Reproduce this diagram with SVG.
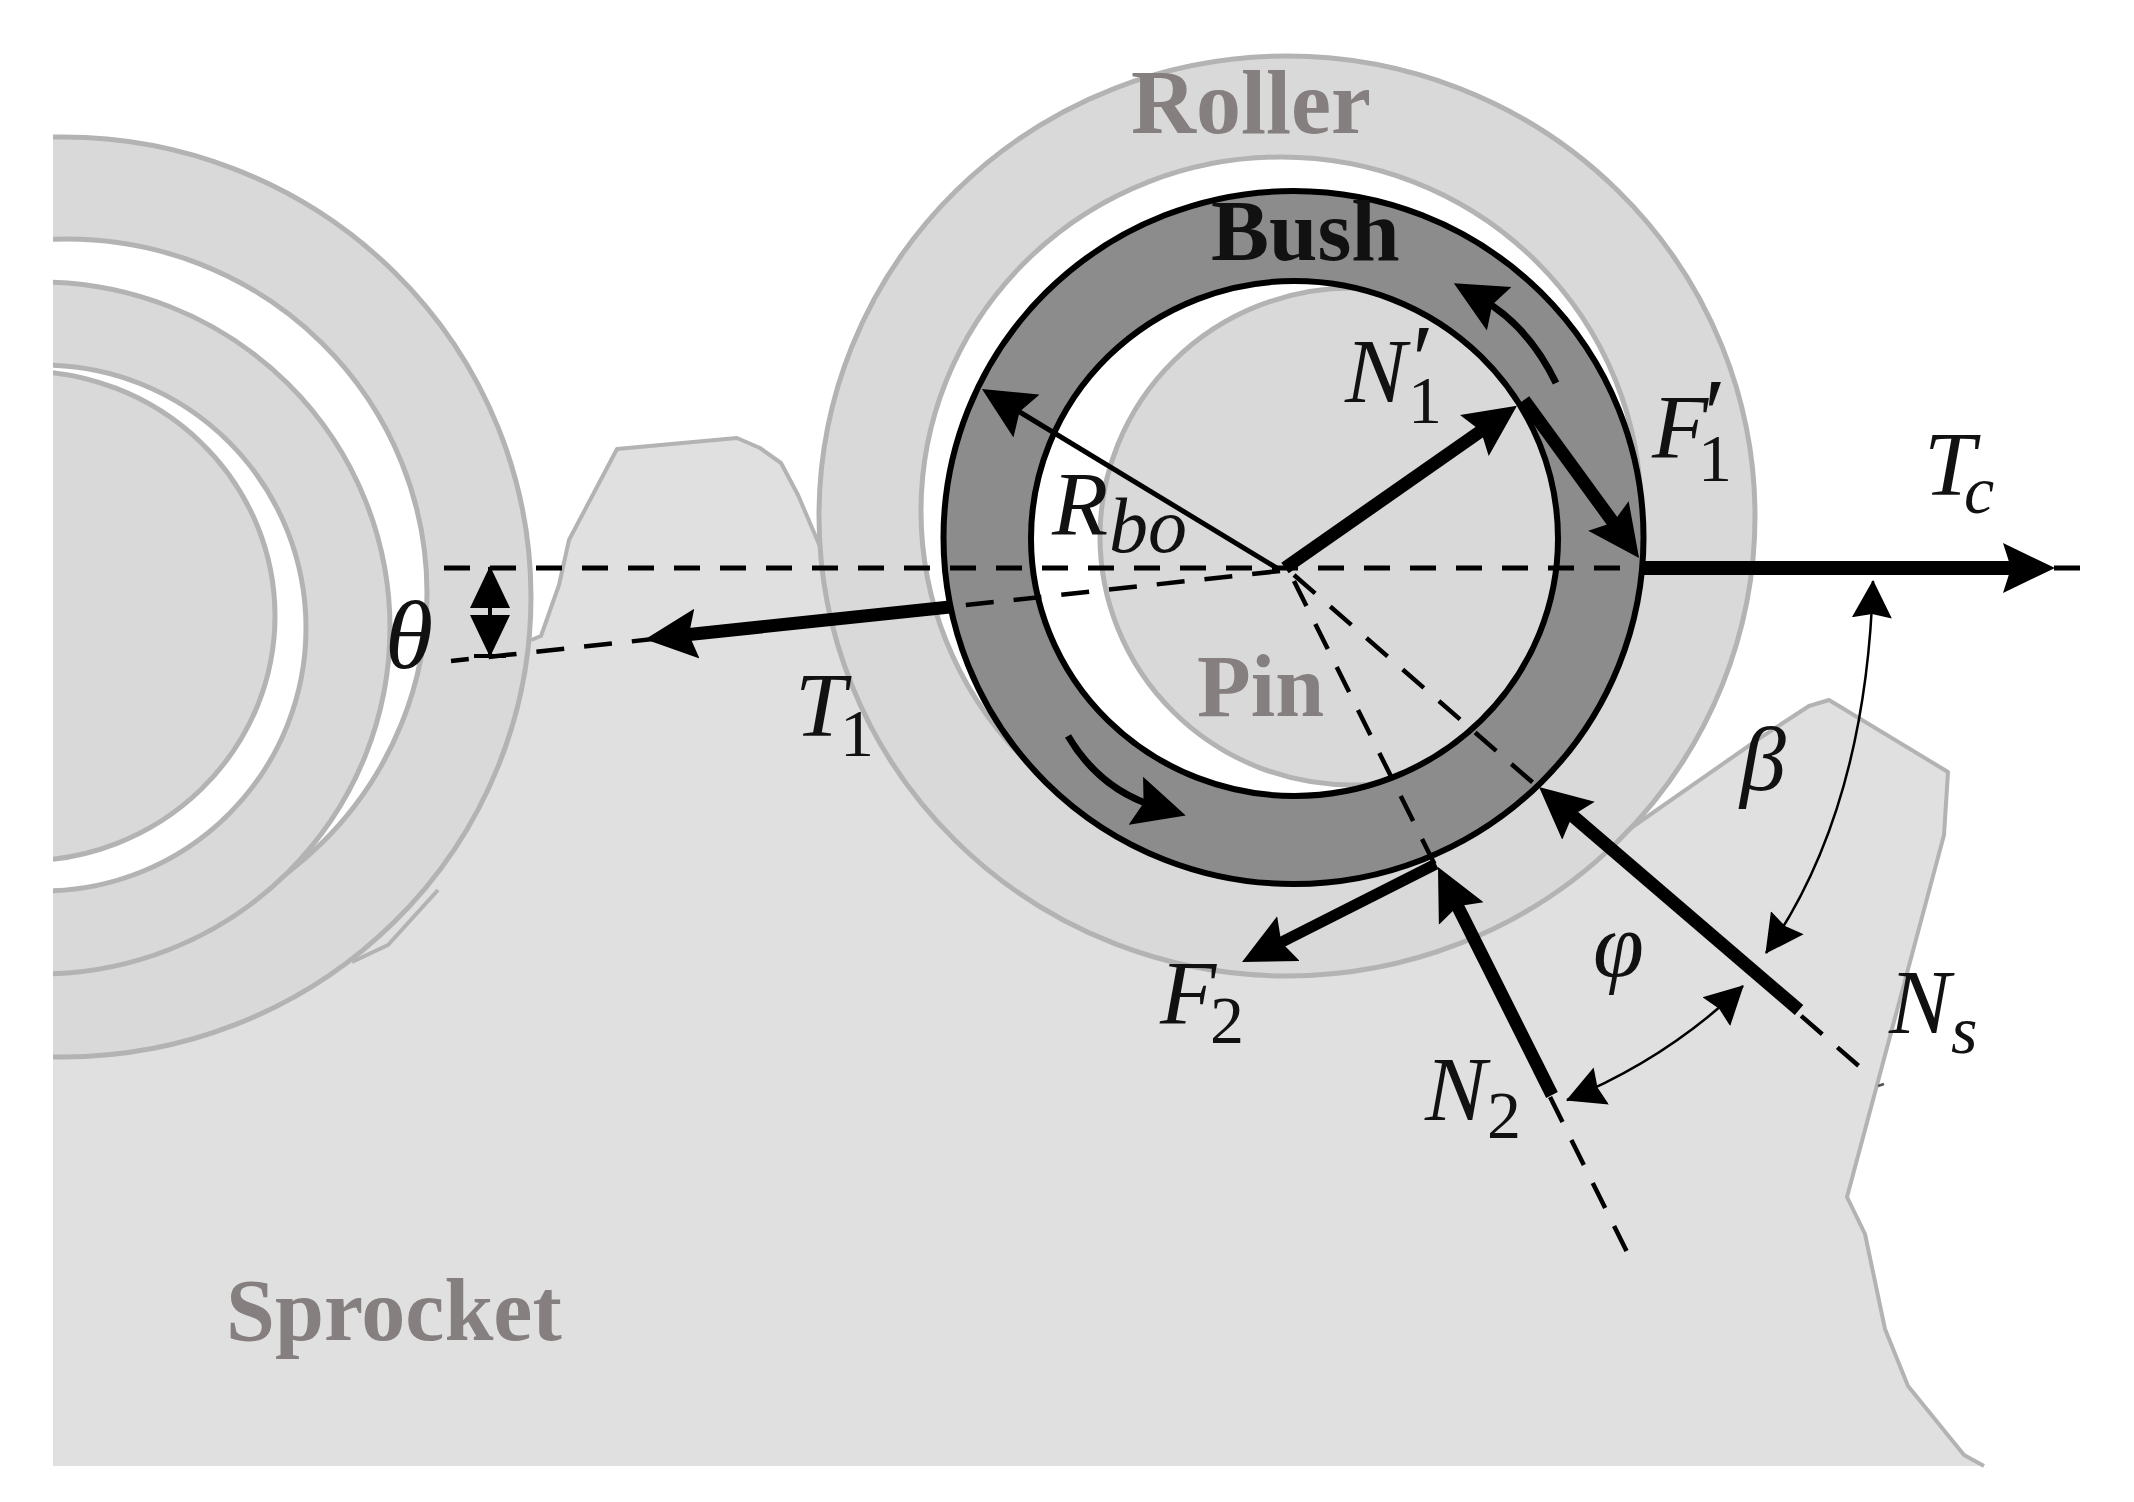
<svg xmlns="http://www.w3.org/2000/svg" width="2134" height="1502" viewBox="0 0 2134 1502">
<style>
.part{fill:#d9d9d9;stroke:#b3b3b3;stroke-width:5}
.gap{fill:#fff;stroke:#b3b3b3;stroke-width:5}
.edge{fill:none;stroke:#b3b3b3;stroke-width:4;stroke-linejoin:round}
.ring{fill:#8c8c8c;fill-rule:evenodd;stroke:#000;stroke-width:6}
.dash{fill:none;stroke:#000;stroke-width:5;stroke-dasharray:26 20}
.dash2{fill:none;stroke:#000;stroke-width:4.5;stroke-dasharray:28 20}
.force{fill:none;stroke:#000;stroke-width:13;marker-end:url(#big)}
.thin{fill:none;stroke:#000;stroke-width:5;marker-end:url(#big)}
.curve{fill:none;stroke:#000;stroke-width:7;marker-end:url(#big)}
.angle{fill:none;stroke:#000;stroke-width:2.5;marker-start:url(#small);marker-end:url(#small)}
.name{font-family:"Liberation Serif",serif;font-weight:700;fill:#857f7f}
.math{font-family:"Liberation Serif",serif;font-style:italic;font-size:92px;fill:#111}
.sub{font-size:68px}
.up{font-size:100px;font-style:normal}
</style>
<defs>
<marker id="big" markerUnits="userSpaceOnUse" viewBox="0 -26 52 52" markerWidth="52" markerHeight="52" refX="22" refY="0" orient="auto"><path d="M0,-25L52,0L0,25L8,0Z" fill="#000"/></marker>
<marker id="small" markerUnits="userSpaceOnUse" viewBox="0 -21 38 42" markerWidth="38" markerHeight="42" refX="37" refY="0" orient="auto-start-reverse"><path d="M0,-20L38,0L0,20L4,0Z" fill="#000"/></marker>
<marker id="theta" markerUnits="userSpaceOnUse" viewBox="0 -21 42 42" markerWidth="42" markerHeight="42" refX="41" refY="0" orient="auto-start-reverse"><path d="M0,-20L42,0L0,20Z" fill="#000"/></marker>
<clipPath id="leftclip"><rect x="53" y="0" width="600" height="1502"/></clipPath>
</defs>
<g id="sprocket">
<path d="M53,1466V600L531,640L541,636L559,585L569,540L617,449L737,438L760,448L781,463L798,495L830,570L1290,900L1621,835L1760,738L1809,706L1829,700L1948,772L1944,835L1847,1197L1865,1234L1885,1329L1908,1386L1964,1455L1984,1466Z" fill="#e0e0e0"/>
<path class="edge" d="M531,640L541,636L559,585L569,540L617,449L737,438L760,448L781,463L798,495L830,570"/>
<path class="edge" d="M1621,835L1760,738L1809,706L1829,700L1948,772L1944,835L1847,1197L1865,1234L1885,1329L1908,1386L1964,1455L1984,1466"/>
<path class="edge" d="M438,890L388,945L352,962"/>
</g>
<g id="left-link" clip-path="url(#leftclip)">
<ellipse class="part" cx="63" cy="597" rx="468" ry="460"/>
<ellipse class="gap" cx="67" cy="593" rx="360" ry="354"/>
<ellipse class="part" cx="40" cy="628" rx="350" ry="346"/>
<ellipse class="gap" cx="43" cy="628" rx="263" ry="263"/>
<ellipse class="part" cx="23" cy="616" rx="252" ry="245"/>
</g>
<g id="roller">
<ellipse class="part" cx="1287" cy="516" rx="468" ry="460"/>
<ellipse class="gap" cx="1281" cy="511" rx="360" ry="354"/>
</g>
<g id="pin">
<ellipse class="gap" cx="1294.5" cy="538.5" rx="263.5" ry="257.5" style="stroke:none"/>
<ellipse class="part" cx="1352" cy="536.5" rx="252" ry="248.5"/>
</g>
<g id="bush">
<path class="ring" d="M943.5,537.5a350,346.5 0 1,0 700,0a350,346.5 0 1,0 -700,0ZM1031,538.5a263.5,257.5 0 1,0 527,0a263.5,257.5 0 1,0 -527,0Z"/>
</g>
<g id="connectors">
<path class="dash" d="M444,568H2092"/>
<path class="dash2" d="M1280,571L451,661"/>
<path class="dash2" d="M1294,581L1628,1254"/>
<path class="dash2" d="M1294,575L1868,1074"/>
<path d="M1878,1086L1884,1084" fill="none" stroke="#555" stroke-width="2.5"/>
<path class="force" d="M950,607L675,636"/>
<path class="force" style="stroke-width:14" d="M1643,568H2025"/>
<path class="force" d="M1285,568L1492.4,423"/>
<path class="force" d="M1524,400L1621.4,533.7"/>
<path class="thin" d="M1280,570L1007.6,404.6"/>
<path class="force" d="M1552,1095L1451.4,893.8"/>
<path class="force" style="stroke-width:11" d="M1436,864L1268.8,948.5"/>
<path class="force" d="M1799,1010L1561.8,806.5"/>
<path class="curve" d="M1556,383Q1528,325 1480,298"/>
<path class="curve" d="M1068,736Q1100,790 1157,807"/>
<path class="angle" d="M1873,581Q1866,811 1766,953"/>
<path class="angle" d="M1743,986Q1667,1059 1567,1100"/>
<path d="M490,567V656" fill="none" stroke="#000" stroke-width="4" marker-start="url(#theta)" marker-end="url(#theta)"/>
<path d="M474,656H506" fill="none" stroke="#000" stroke-width="4"/>
</g>
<g id="labels">
<text class="name" x="1131" y="133" font-size="90">Roller</text>
<text class="name" x="1211" y="260" font-size="87" style="fill:#111">Bush</text>
<text class="name" x="1197" y="716" font-size="88">Pin</text>
<text class="name" x="226" y="1340" font-size="88">Sprocket</text>
<text class="math" x="385" y="668" style="font-size:98px">θ</text>
<text class="math" x="795" y="736">T<tspan class="sub" x="840" y="756" style="font-style:normal">1</tspan></text>
<text class="math" x="1052" y="535">R<tspan class="sub" x="1109" y="552" style="font-size:78px">bo</tspan></text>
<text class="math" x="1345" y="402">N<tspan class="up" x="1412" y="393">′</tspan><tspan class="sub" x="1408" y="423" style="font-style:normal">1</tspan></text>
<text class="math" x="1652" y="458">F<tspan class="up" x="1704" y="447">′</tspan><tspan class="sub" x="1698" y="481" style="font-style:normal">1</tspan></text>
<text class="math" x="1924" y="495">T<tspan class="sub" x="1964" y="513">c</tspan></text>
<text class="math" x="1740" y="790">β</text>
<text class="math" x="1593" y="976">φ</text>
<text class="math" x="1160" y="1024">F<tspan class="sub" x="1210" y="1043" style="font-style:normal">2</tspan></text>
<text class="math" x="1425" y="1120">N<tspan class="sub" x="1487" y="1138" style="font-style:normal">2</tspan></text>
<text class="math" x="1889" y="1033">N<tspan class="sub" x="1951" y="1053">s</tspan></text>
</g>
</svg>
